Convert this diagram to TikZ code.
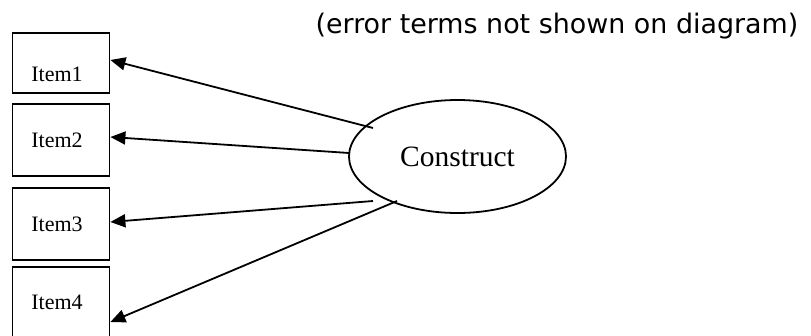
\documentclass[tikz,border=0pt]{standalone}
\usepackage{fontspec}
\setmainfont{Liberation Serif}
\newfontfamily\notefont{DejaVu Sans}
\usetikzlibrary{arrows.meta,shapes.geometric}
\begin{document}
\begin{tikzpicture}[x=1pt,y=-1pt,
  itembox/.style={draw,line width=1.8pt,inner sep=0pt},
  itemtext/.style={font=\fontsize{22}{26}\selectfont,inner sep=0pt},
  conn/.style={line width=1.8pt,-{Triangle[length=15pt,width=13pt]}}]
\useasboundingbox (0,0) rectangle (811,335);
\node[itembox,minimum width=97pt,minimum height=60pt] (i1) at (61,63) {};
\node[itembox,minimum width=97pt,minimum height=72pt] (i2) at (61,140) {};
\node[itembox,minimum width=97pt,minimum height=72pt] (i3) at (61,224) {};
\node[itembox,minimum width=97pt,minimum height=80pt] (i4) at (61,307) {};
\node[itemtext] (t1) at (57,74) {Item1};
\node[itemtext] (t2) at (57,140) {Item2};
\node[itemtext] (t3) at (57,224) {Item3};
\node[itemtext] (t4) at (57,302) {Item4};
\node[ellipse,draw,line width=1.8pt,minimum width=217pt,minimum height=113pt,inner sep=0pt,font=\fontsize{29.5}{34}\selectfont] (c) at (457.5,156.5) {Construct};
\node[font=\notefont\fontsize{26.9}{32}\selectfont,inner sep=0pt] (note) at (557,26) {(error terms not shown on diagram)};
\coordinate (s1) at (373,128);
\coordinate (s2) at (349,153);
\coordinate (s3) at (373,201);
\coordinate (s4) at (397,201);
\coordinate (e1) at (i1.east |- 0,60);
\coordinate (e2) at (i2.east |- 0,137);
\coordinate (e3) at (i3.east |- 0,222);
\coordinate (e4) at (i4.east |- 0,322);
\draw[conn] (s1) -- (e1);
\draw[conn] (s2) -- (e2);
\draw[conn] (s3) -- (e3);
\draw[conn] (s4) -- (e4);
\end{tikzpicture}
\end{document}
